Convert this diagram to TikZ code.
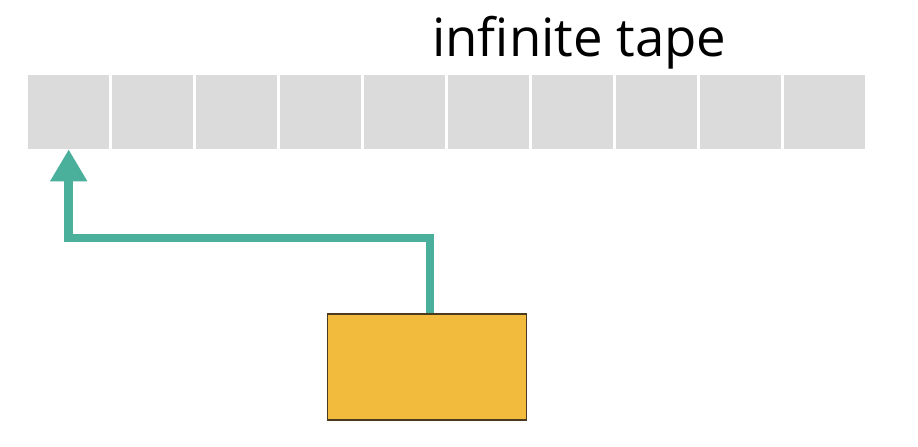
\documentclass[tikz,border=0pt]{standalone}
\usepackage{fontspec}
\setmainfont{Open Sans}
\usepackage{xcolor}
\usetikzlibrary{arrows.meta,positioning}
\definecolor{cell}{HTML}{DCDBDC}
\definecolor{head}{HTML}{4BB09B}
\definecolor{ctrlfill}{HTML}{F2BB3E}
\definecolor{ctrledge}{HTML}{4A3A1E}
\tikzset{tapecell/.style={fill=cell,minimum width=1.63cm,minimum height=1.48cm,inner sep=0pt},
  ctrlbox/.style={draw=ctrledge,fill=ctrlfill,line width=0.9pt,minimum width=3.98cm,minimum height=2.12cm,inner sep=0pt},
  headline/.style={head,line width=4.8pt,line join=miter,-{Triangle[width=0.7cm,length=0.64cm]}}}

\begin{document}
\begin{tikzpicture}[x=0.02cm,y=-0.02cm]
  \useasboundingbox (0,0) rectangle (918,446);
  \foreach \i in {1,...,10} \node[tapecell] (c\i) at ({68.7+84*(\i-1)},112) {};
  \node[anchor=base west,font=\fontsize{30}{32}\selectfont] (title) at (426,57) {infinite tape};
  \node[ctrlbox] (ctrl) at (427,367) {};
  \coordinate (bend) at (430,238);
  \draw[headline] (ctrl.north -| bend) -- (bend) -| (c1.south);
\end{tikzpicture}
\end{document}
